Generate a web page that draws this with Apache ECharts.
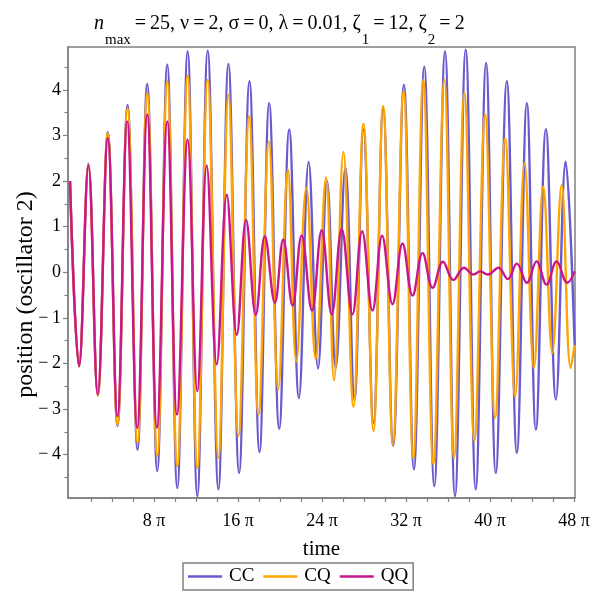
<!DOCTYPE html>
<html>
<head>
<meta charset="utf-8">
<title>oscillator 2</title>
<script src="https://cdn.jsdelivr.net/npm/echarts@6/dist/echarts.min.js"></script>
<style>
  html, body { margin: 0; padding: 0; background: #fff; }
  #main { width: 600px; height: 600px; }
</style>
</head>
<body>
<div id="main"></div>
<script>
// extrema: time (rad) and position
const ccT = [0, 2.7, 5.5, 8.3, 11.3, 14.2, 17.2, 20.2, 23.1, 26.1, 29.1, 32.1, 35.2, 38.1, 41.2, 44.4, 47.4, 50.6, 53.7, 56.7, 59.6, 62.6, 65.6, 68.5, 71.4, 74.2, 76.9, 79.5, 82.4, 85.1, 87.8, 90.8, 93.7, 96.7, 99.9, 102.9, 106.0, 109.0, 112.2, 115.2, 118.4, 121.4, 124.5, 127.4, 130.7, 133.7, 136.7, 139.4, 142.4, 145.4, 148.3, 151.0]
const ccV = [2.0, -2.06, 2.38, -2.70, 3.07, -3.37, 3.67, -3.89, 4.13, -4.36, 4.55, -4.73, 4.84, -4.91, 4.86, -4.76, 4.57, -4.40, 4.19, -3.94, 3.71, -3.43, 3.13, -2.76, 2.42, -2.11, 2.0, -2.1, 2.3, -2.8, 3.13, -3.3, 3.6, -3.8, 4.11, -4.32, 4.51, -4.69, 4.84, -4.91, 4.88, -4.76, 4.59, -4.40, 4.19, -3.96, 3.71, -3.45, 3.14, -2.79, 2.43, -1.6]

const cqT = [0, 2.7, 5.5, 8.3, 11.3, 14.2, 17.2, 20.2, 23.1, 26.1, 29.1, 32.1, 35.2, 38.1, 41.2, 44.4, 47.4, 50.4, 53.6, 56.4, 59.5, 62.3, 65.2, 67.7, 70.7, 73.5, 76.6, 79.0, 81.8, 84.8, 87.8, 90.8, 93.7, 96.6, 99.8, 102.7, 105.7, 108.7, 112.0, 114.9, 118.0, 121.0, 124.2, 127.2, 130.2, 133.2, 136.0, 138.8, 141.6, 144.3, 147.1, 149.8, 151.0]
const cqV = [2.0, -2.06, 2.36, -2.70, 3.05, -3.35, 3.60, -3.74, 3.93, -4.03, 4.19, -4.25, 4.31, -4.29, 4.22, -4.07, 3.89, -3.59, 3.42, -3.12, 2.87, -2.57, 2.25, -1.95, 1.85, -1.90, 2.08, -2.37, 2.64, -2.95, 3.26, -3.48, 3.65, -3.78, 3.97, -4.07, 4.22, -4.21, 4.22, -4.07, 3.93, -3.70, 3.46, -3.19, 2.94, -2.72, 2.40, -2.10, 1.88, -1.77, 1.91, -2.10, -1.6]

const qqT = [0, 2.7, 5.5, 8.3, 11.3, 14.2, 17.1, 20.1, 23.1, 26.0, 29.1, 32.0, 35.2, 38.1, 40.9, 43.9, 46.9, 49.9, 52.7, 55.6, 58.3, 61.3, 63.8, 66.6, 69.3, 72.4, 75.3, 78.3, 81.3, 84.5, 87.4, 90.5, 93.4, 96.5, 99.5, 102.5, 105.5, 108.5, 111.6, 114.7, 117.9, 120.7, 122.7, 125.0, 128.2, 131.0, 133.7, 136.7, 139.6, 142.6, 145.6, 148.8, 151.0]
const qqV = [2.0, -2.06, 2.34, -2.68, 2.94, -3.16, 3.31, -3.41, 3.46, -3.41, 3.31, -3.12, 2.91, -2.61, 2.34, -2.02, 1.70, -1.37, 1.15, -0.93, 0.79, -0.67, 0.72, -0.73, 0.81, -0.84, 0.92, -0.92, 0.95, -0.92, 0.90, -0.84, 0.80, -0.70, 0.63, -0.51, 0.42, -0.34, 0.23, -0.17, 0.10, -0.05, 0.02, -0.05, 0.10, -0.15, 0.19, -0.23, 0.24, -0.27, 0.24, -0.23, 0.02]

// ticks, in multiples of pi for the time axis
const xLabelMult = [8, 16, 24, 32, 40, 48]
const xMinorMult = [2, 4, 6, 10, 12, 14, 18, 20, 22, 26, 28, 30, 34, 36, 38, 42, 44, 46]
const yLabels = [-4, -3, -2, -1, 0, 1, 2, 3, 4]
const yMinor = [-4.5, -3.5, -2.5, -1.5, -0.5, 0.5, 1.5, 2.5, 3.5, 4.5]

const PI = Math.PI
const serif = 'Liberation Serif'
const grey = '#808080'
const ts = '\u2009' // thin space, Maple sets "=" tight
const pairs = (ts, vs) => ts.map((t, i) => [t, vs[i]])

const xRange = { min: -0.6, max: 151.1 }
const yRange = { min: -4.95, max: 4.94 }

const chart = echarts.init(document.getElementById('main'), null, { renderer: 'canvas' })

const option = {
  animation: false,
  backgroundColor: '#fff',
  title: {
    text: '{n|n}{sub|max}{t|' + ts + '=' + ts + '25, ν' + ts + '=' + ts + '2, σ' + ts + '=' + ts + '0, λ' + ts + '=' + ts +
      '0.01, ζ}{sub|1}{t|' + ts + '=' + ts + '12, ζ}{sub|2}{t|' + ts + '=' + ts + '2}',
    left: 89,
    top: -6,
    textStyle: {
      fontWeight: 'normal',
      rich: {
        n: { fontFamily: serif, fontSize: 20, fontStyle: 'italic', fontWeight: 'normal', color: '#000' },
        t: { fontFamily: serif, fontSize: 20, fontWeight: 'normal', color: '#000' },
        sub: { fontFamily: serif, fontSize: 15, fontWeight: 'normal', color: '#000', padding: [34, 0, 0, 1] }
      }
    }
  },
  grid: {
    left: 68, right: 25, top: 47, bottom: 102,
    show: true, borderColor: grey, borderWidth: 1.5,
    outerBoundsMode: 'none'
  },
  legend: {
    left: 183, top: 563,
    data: ['CC', 'CQ', 'QQ'],
    icon: 'rect', itemWidth: 34, itemHeight: 2.5, itemGap: 9,
    padding: [4, 5, 4, 5],
    borderColor: grey, borderWidth: 1.5,
    textStyle: { fontFamily: serif, fontSize: 19, color: '#000', padding: [0, 0, 0, 2] }
  },
  xAxis: [{
    type: 'value', ...xRange, position: 'bottom',
    name: 'time', nameLocation: 'middle', nameGap: 41,
    nameTextStyle: { fontFamily: serif, fontSize: 21, color: '#000' },
    axisLine: { show: true, onZero: false, lineStyle: { color: grey, width: 1.5 } },
    axisTick: { show: true, length: 4, lineStyle: { color: grey, width: 1.2 },
      customValues: xLabelMult.map(m => m * PI) },
    axisLabel: { fontFamily: serif, fontSize: 18, color: '#000', margin: 14,
      customValues: xLabelMult.map(m => m * PI),
      formatter: v => Math.round(v / PI) + ' π' },
    splitLine: { show: false }
  }, {
    type: 'value', ...xRange, position: 'bottom',
    axisLine: { show: false, onZero: false },
    axisTick: { show: true, length: 4, lineStyle: { color: grey, width: 1.2 },
      customValues: xMinorMult.map(m => m * PI) },
    axisLabel: { show: false },
    splitLine: { show: false }
  }],
  yAxis: [{
    type: 'value', ...yRange, position: 'left',
    name: 'position (oscillator 2)', nameLocation: 'middle', nameGap: 30, nameRotate: 90,
    nameMoveOverlap: false,
    nameTextStyle: { fontFamily: serif, fontSize: 24, color: '#000', padding: [0, 44, 0, 0] },
    axisLine: { show: true, onZero: false, lineStyle: { color: grey, width: 1.5 } },
    axisTick: { show: true, length: 5, lineStyle: { color: grey, width: 1.2 },
      customValues: yLabels },
    axisLabel: { fontFamily: serif, fontSize: 18, color: '#000', margin: 7,
      customValues: yLabels,
      formatter: v => (v < 0 ? '\u2212\u2009' + (-v) : String(v)) },
    splitLine: { show: false }
  }, {
    type: 'value', ...yRange, position: 'left',
    axisLine: { show: false, onZero: false },
    axisTick: { show: true, length: 3.5, lineStyle: { color: grey, width: 1.2 },
      customValues: yMinor },
    axisLabel: { show: false },
    splitLine: { show: false }
  }],
  series: [
    { name: 'CC', type: 'line', data: pairs(ccT, ccV), smooth: 0.4, showSymbol: false,
      itemStyle: { color: '#6A5ACD' }, lineStyle: { color: '#6A5ACD', width: 2.4 } },
    { name: 'CQ', type: 'line', data: pairs(cqT, cqV), smooth: 0.4, showSymbol: false,
      itemStyle: { color: '#FFA500' }, lineStyle: { color: '#FFA500', width: 2.4 } },
    { name: 'QQ', type: 'line', data: pairs(qqT, qqV), smooth: 0.4, showSymbol: false,
      itemStyle: { color: '#C8168C' }, lineStyle: { color: '#C8168C', width: 2.4 } }
  ]
}

chart.setOption(option)
</script>
</body>
</html>
